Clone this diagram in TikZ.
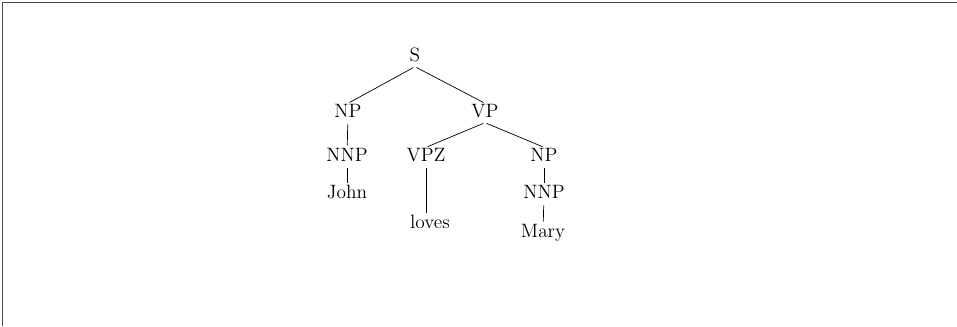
\documentclass[tikz,border=0pt]{standalone}
\begin{document}
\begin{tikzpicture}[x=0.02cm,y=-0.02cm,
    lbl/.style={inner sep=1pt,text height=1.6ex,text depth=.4ex,font=\fontsize{11}{13}\selectfont},
    br/.style={shorten >=1pt,shorten <=1pt}]
    \useasboundingbox (0,0) rectangle (957,326);
    \draw[black!70,line width=0.9pt] (2.5,326) -- (2.5,2.5) -- (957,2.5);
    \node[lbl] (s) at (415,57) {S};
    \node[lbl] (np) at (348,113) {NP};
    \node[lbl] (vp) at (485,113) {VP};
    \node[lbl] (nnpa) at (347,157) {NNP};
    \node[lbl] (vpz) at (426,157) {VPZ};
    \node[lbl] (npb) at (544,157) {NP};
    \node[lbl] (john) at (347,194) {John};
    \node[lbl] (loves) at (430,224) {loves};
    \node[lbl] (nnpb) at (544,194) {NNP};
    \node[lbl] (mary) at (543,233) {Mary};
    \draw[br] (s.south) -- (np.north);
    \draw[br] (s.south) -- (vp.north);
    \draw[br] (np) -- (nnpa);
    \draw[br] (nnpa) -- (john);
    \draw[br] (vp.south) -- (vpz.north);
    \draw[br] (vp.south) -- (npb.north);
    \draw[br] (vpz.south -| 426,0) -- (loves.north -| 426,0);
    \draw[br] (npb) -- (nnpb);
    \draw[br] (nnpb) -- (mary);
\end{tikzpicture}
\end{document}
